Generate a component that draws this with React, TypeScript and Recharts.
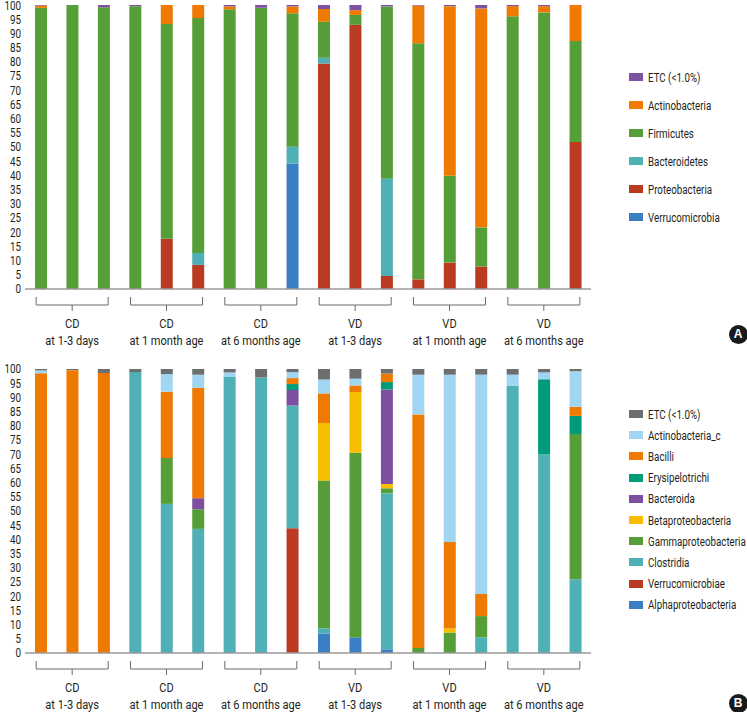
import { BarChart, Bar, XAxis, YAxis } from "recharts";

const FONT = "Roboto, 'Liberation Sans', sans-serif";
const SQUEEZE = 0.82;

// 18 samples, 3 per group
const samples = [
    "CD1-3d-1", "CD1-3d-2", "CD1-3d-3",
    "CD1m-1", "CD1m-2", "CD1m-3",
    "CD6m-1", "CD6m-2", "CD6m-3",
    "VD1-3d-1", "VD1-3d-2", "VD1-3d-3",
    "VD1m-1", "VD1m-2", "VD1m-3",
    "VD6m-1", "VD6m-2", "VD6m-3",
];
const groupTop = ["CD", "CD", "CD", "VD", "VD", "VD"];
const groupBottom = [
    "at 1-3 days",
    "at 1 month age",
    "at 6 months age",
    "at 1-3 days",
    "at 1 month age",
    "at 6 months age",
];
const yTicks = [0, 5, 10, 15, 20, 25, 30, 35, 40, 45, 50, 55, 60, 65, 70, 75, 80, 85, 90, 95, 100];

// Panel A: phylum level (%)
const verrucomicrobia = [0, 0, 0, 0, 0, 0, 0, 0, 44.2, 0, 0, 0, 0, 0, 0, 0, 0, 0];
const proteobacteria = [0, 0, 0, 0, 17.7, 8.5, 0, 0, 0, 79.4, 93, 4.6, 3.4, 9.3, 7.9, 0, 0, 51.8];
const bacteroidetes = [0, 0, 0, 0, 0, 4.2, 0, 0, 5.9, 2, 0, 34.2, 0, 0, 0, 0, 0, 0];
const firmicutes = [99, 100, 99.2, 99.6, 75.6, 82.7, 98.5, 99, 47, 12.7, 3.5, 60.7, 83.1, 30.6, 13.8, 96, 97.4, 35.5];
const actinobacteria = [0.8, 0, 0, 0, 6.7, 4.6, 1, 0, 2.4, 4.5, 1.7, 0, 13.3, 59.7, 77.1, 3.6, 2.2, 12.7];
const etcA = [0.2, 0, 0.8, 0.4, 0, 0, 0.5, 1, 0.5, 1.4, 1.8, 0.5, 0.2, 0.4, 1.2, 0.4, 0.4, 0];

// Panel B: class level (%)
const alphaproteo = [0, 0, 0, 0, 0, 0, 0, 0, 0, 6.9, 5.5, 1.3, 0, 0, 0, 0, 0, 0];
const verrucomicrobiae = [0, 0, 0, 0, 0, 0, 0, 0, 43.9, 0, 0, 0, 0, 0, 0, 0, 0, 0];
const clostridia = [0, 0, 0, 98.9, 52.5, 43.7, 97.4, 97, 43.2, 1.8, 0, 54.9, 0, 0, 5.5, 94, 70, 26];
const gammaproteo = [0, 0, 0, 0, 16.2, 6.9, 0, 0, 0, 52, 65, 1.8, 1.8, 7.2, 7.5, 0, 0, 51.1];
const betaproteo = [0, 0, 0, 0, 0, 0, 0, 0, 0, 20.3, 21.4, 1.5, 0, 1.4, 0, 0, 0, 0];
const bacteroida = [0, 0, 0, 0, 0, 3.9, 0, 0, 5.5, 0, 0, 33.3, 0, 0, 0, 0, 0, 0];
const erysipelotrichi = [0, 0, 0, 0, 0, 0, 0, 0, 2.1, 0, 0, 2.6, 0, 0, 0, 0, 26.4, 6.4];
const bacilli = [98.5, 99.6, 98.6, 0, 23.3, 38.9, 0, 0, 2.1, 10.4, 2.3, 3, 82.2, 30.5, 7.8, 0, 0, 3.2];
const actinobacteriaC = [1, 0, 0, 0, 6.2, 4.6, 1.4, 0, 2.1, 4.9, 2.4, 0, 14, 58.9, 77.2, 4, 2.4, 12.5];
const etcB = [0.5, 0.4, 1.4, 1.1, 1.8, 2, 1.2, 3, 1.1, 3.7, 3.4, 1.6, 2, 2, 2, 2, 1.2, 0.8];

// series listed bottom -> top of the stack
const seriesA = [
    { key: "Verrucomicrobia", values: verrucomicrobia, color: "#3a7ec4" },
    { key: "Proteobacteria", values: proteobacteria, color: "#bb3b22" },
    { key: "Bacteroidetes", values: bacteroidetes, color: "#4fb0b6" },
    { key: "Firmicutes", values: firmicutes, color: "#569e38" },
    { key: "Actinobacteria", values: actinobacteria, color: "#ee7a01" },
    { key: "ETC (<1.0%)", values: etcA, color: "#7c52a2" },
];

const seriesB = [
    { key: "Alphaproteobacteria", values: alphaproteo, color: "#3a7ec4" },
    { key: "Verrucomicrobiae", values: verrucomicrobiae, color: "#bb3b22" },
    { key: "Clostridia", values: clostridia, color: "#4fb0b6" },
    { key: "Gammaproteobacteria", values: gammaproteo, color: "#569e38" },
    { key: "Betaproteobacteria", values: betaproteo, color: "#f8bd00" },
    { key: "Bacteroida", values: bacteroida, color: "#7c4fa0" },
    { key: "Erysipelotrichi", values: erysipelotrichi, color: "#009b78" },
    { key: "Bacilli", values: bacilli, color: "#ee7a01" },
    { key: "Actinobacteria_c", values: actinobacteriaC, color: "#a1d6f3" },
    { key: "ETC (<1.0%)", values: etcB, color: "#6d6e70" },
];

const buildRows = (series: { key: string; values: number[] }[]) =>
    samples.map((name, i) => {
        const row: Record<string, any> = { name };
        series.forEach((s) => (row[s.key] = s.values[i]));
        return row;
    });

// narrow text, the original uses a condensed face
const NarrowText = ({ x, y, anchor, size, children }: any) => (
    <text
        transform={`translate(${x},${y}) scale(${SQUEEZE},1)`}
        textAnchor={anchor}
        fontSize={size}
        fill="#231f20"
        fontFamily={FONT}
    >
        {children}
    </text>
);

const GroupTick = (props: any) => {
    const { x, y, index } = props;
    if (index % 3 !== 1) return null;
    const g = Math.floor(index / 3);
    const half = 36;
    return (
        <g>
            <path
                d={`M${x - half},${y + 8} L${x - half},${y + 16} L${x + half},${y + 16} L${x + half},${y + 8} M${x},${y + 16} L${x},${y + 22}`}
                stroke="#6b6b6b"
                strokeWidth={1}
                fill="none"
            />
            <NarrowText x={x} y={y + 39} anchor="middle" size={13.5}>
                {groupTop[g]}
            </NarrowText>
            <NarrowText x={x} y={y + 56} anchor="middle" size={13.5}>
                {groupBottom[g]}
            </NarrowText>
        </g>
    );
};

const ValueTick = (props: any) => {
    const { x, y, payload } = props;
    // keep the top label inside the picture
    const yy = Math.max(y, 5.5);
    return (
        <NarrowText x={x} y={yy + 4.3} anchor="end" size={12}>
            {payload.value}
        </NarrowText>
    );
};

const StackChart = ({ series, height, top }: { series: any[]; height: number; top: number }) => (
    <BarChart
        width={595}
        height={height}
        data={buildRows(series)}
        margin={{ top, right: 4, bottom: 0, left: 0 }}
        barSize={12}
    >
        <XAxis
            dataKey="name"
            interval={0}
            tickLine={false}
            tickSize={0}
            tickMargin={0}
            axisLine={{ stroke: "#9a9a9a", strokeWidth: 1.5 }}
            height={height - top - 284}
            tick={<GroupTick />}
        />
        <YAxis
            domain={[0, 100]}
            ticks={yTicks}
            width={25}
            axisLine={false}
            tickLine={false}
            tickSize={0}
            tickMargin={4}
            interval={0}
            tick={<ValueTick />}
        />
        {series.map((s) => (
            <Bar key={s.key} dataKey={s.key} stackId="a" fill={s.color} isAnimationActive={false} />
        ))}
    </BarChart>
);

const Legend = ({ items, top, step }: { items: any[]; top: number; step: number }) => (
    <div style={{ position: "absolute", left: 629, top, fontFamily: FONT, fontSize: 12.5, color: "#231f20" }}>
        {[...items].reverse().map((s, i) => (
            <div
                key={s.key}
                style={{ position: "absolute", top: i * step, left: 0, display: "flex", alignItems: "center", whiteSpace: "nowrap", height: 12 }}
            >
                <span style={{ display: "inline-block", width: 14, height: 8, background: s.color, marginRight: 5 }} />
                <span style={{ display: "inline-block", transform: "scaleX(0.78)", transformOrigin: "left center" }}>
                    {s.key}
                </span>
            </div>
        ))}
    </div>
);

const Badge = ({ label, cx, cy }: { label: string; cx: number; cy: number }) => (
    <div
        style={{
            position: "absolute",
            left: cx - 9.5,
            top: cy - 9.5,
            width: 19,
            height: 19,
            borderRadius: "50%",
            background: "#1a1a1a",
            color: "#fff",
            fontFamily: "'Liberation Sans', Arial, sans-serif",
            fontWeight: 700,
            fontSize: 12,
            lineHeight: "19px",
            textAlign: "center",
        }}
    >
        {label}
    </div>
);

export default function App() {
    return (
        <div style={{ position: "absolute", left: 0, top: 0, width: 747, height: 712, background: "#fff", overflow: "hidden" }}>
            <div style={{ position: "absolute", left: 0, top: 0 }}>
                <StackChart series={seriesA} height={354} top={5} />
            </div>
            <div style={{ position: "absolute", left: 0, top: 360 }}>
                <StackChart series={seriesB} height={352} top={9} />
            </div>
            <Legend items={seriesA} top={71} step={28} />
            <Legend items={seriesB} top={408} step={21.2} />
            <Badge label="A" cx={738} cy={334} />
            <Badge label="B" cx={738} cy={703} />
        </div>
    );
}
